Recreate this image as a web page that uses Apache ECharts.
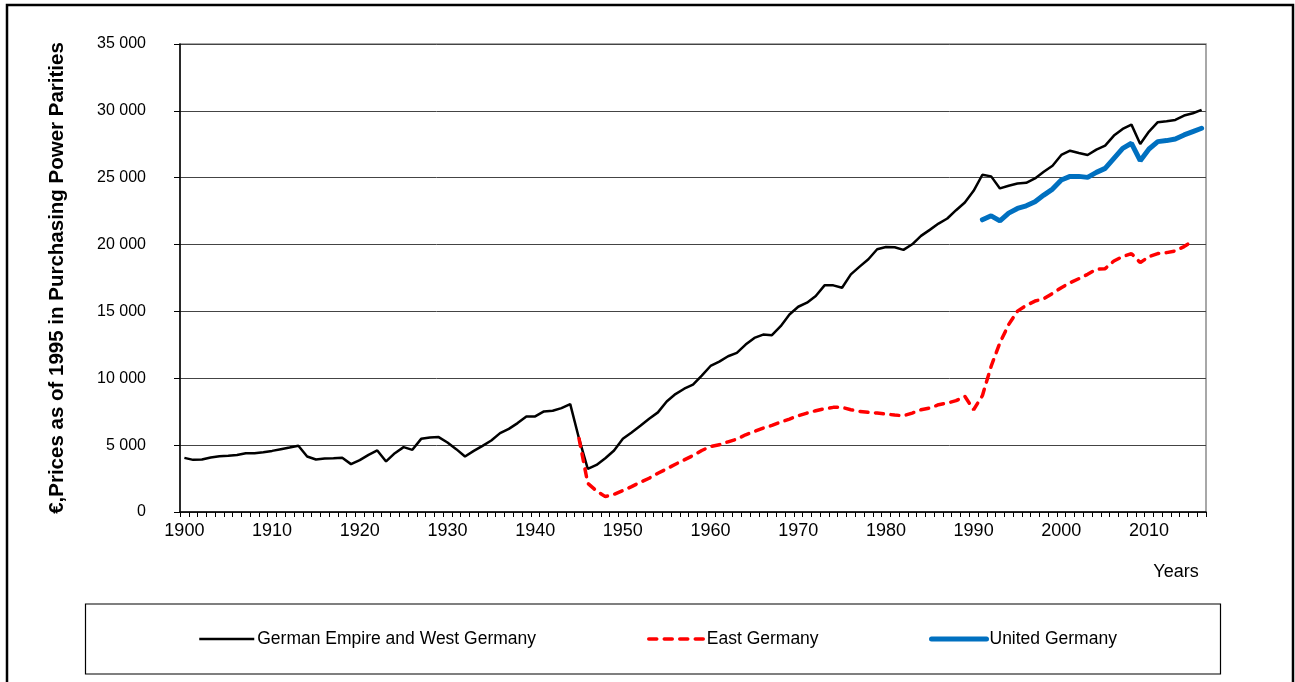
<!DOCTYPE html>
<html>
<head>
<meta charset="utf-8">
<title>GDP per capita Germany</title>
<script src="https://cdn.jsdelivr.net/npm/echarts@6/dist/echarts.min.js"></script>
<style>
    html, body {margin: 0; padding: 0; background: #fff;}
    #chart {width: 1295px; height: 682px;}
</style>
</head>
<body>
<div id="chart"></div>
<script>
//年份 1900-2016
var firstYear = 1900;
var lastYear = 2016;
var yTicks = [0, 5000, 10000, 15000, 20000, 25000, 30000, 35000];

//German Empire and West Germany, 1900-2016
var westValues = [
    4050, 3900, 3920, 4080, 4170, 4200, 4270, 4400, 4400, 4470,
    4570, 4700, 4820, 4950, 4150, 3930, 4000, 4020, 4050, 3580,
    3880, 4270, 4600, 3780, 4400, 4850, 4650, 5470, 5570, 5600,
    5200, 4700, 4150, 4570, 4950, 5350, 5900, 6220, 6650, 7150,
    7150, 7520, 7570, 7770, 8070, 5500, 3220, 3520, 4020, 4600,
    5470, 5950, 6450, 6970, 7450, 8270, 8820, 9220, 9520, 10200,
    10920, 11250, 11650, 11900, 12520, 13020, 13270, 13220, 13900, 14770,
    15350, 15650, 16150, 16950, 16950, 16770, 17770, 18350, 18900, 19650,
    19820, 19800, 19600, 20020, 20650, 21100, 21570, 21950, 22570, 23150,
    24020, 25220, 25100, 24200, 24400, 24570, 24620, 24950, 25450, 25900,
    26700, 27020, 26850, 26700, 27100, 27400, 28150, 28650, 28970, 27520,
    28450, 29150, 29220, 29320, 29650, 29820, 30070
];

//East Germany, 1945-2015
var eastStart = 1945;
var eastValues = [
    5500, 2150, 1575, 1150, 1325, 1600, 1900, 2225, 2525, 2900,
    3225, 3575, 3900, 4225, 4600, 4900, 5025, 5250, 5450, 5775,
    6025, 6275, 6475, 6725, 6950, 7200, 7400, 7575, 7725, 7825,
    7825, 7650, 7525, 7450, 7400, 7325, 7250, 7200, 7400, 7650,
    7775, 8025, 8150, 8325, 8650, 7650, 8700, 10900, 12650, 14025,
    15025, 15450, 15775, 15950, 16350, 16775, 17150, 17450, 17775, 18150,
    18200, 18775, 19100, 19325, 18650, 19100, 19325, 19400, 19525, 19850,
    20275
];

//United Germany, 1991-2016
var unitedStart = 1991;
var unitedValues = [
    21850, 22150, 21775, 22350, 22700, 22900, 23200, 23700, 24150, 24825,
    25100, 25100, 25025, 25400, 25700, 26450, 27200, 27575, 26275, 27150,
    27700, 27775, 27900, 28200, 28450, 28700
];

var years = [];
for (var y = firstYear; y <= lastYear; y++) {
    years.push(String(y));
}
//[年份, 数值]
var pairs = function (start, values) {
    var arr = [];
    for (var i = 0; i < values.length; i++) {
        arr.push([String(start + i), values[i]]);
    }
    return arr;
};
var fmt = function (v) {
    return String(v).replace(/\B(?=(\d{3})+(?!\d))/g, ' ');
};

var font = "'Liberation Sans', Arial, sans-serif";
var e = echarts.init(document.getElementById('chart'));
var option = {
    animation: false,
    backgroundColor: '#fff',
    textStyle: {fontFamily: font, color: '#000'},
    grid: {left: 180, right: 89, top: 44, bottom: 170, show: true, borderColor: '#8c8c8c', borderWidth: 1.5},
    xAxis: {
        type: 'category',
        data: years,
        boundaryGap: true,
        axisLine: {lineStyle: {color: '#000', width: 1.5}},
        axisTick: {show: true, interval: 0, length: 5, lineStyle: {color: '#000'}},
        axisLabel: {
            interval: function (i) { return i % 10 === 0; },
            fontSize: 18, color: '#000', margin: 10, fontFamily: font
        },
        splitLine: {show: false}
    },
    yAxis: {
        type: 'value',
        min: yTicks[0],
        max: yTicks[yTicks.length - 1],
        interval: yTicks[1] - yTicks[0],
        name: '€,Prices as of 1995 in Purchasing Power Parities',
        nameLocation: 'middle',
        nameGap: 112,
        nameRotate: 90,
        nameTextStyle: {fontSize: 20.5, fontWeight: 'bold', color: '#000', fontFamily: font},
        axisLine: {show: true, lineStyle: {color: '#000', width: 1.5}},
        axisTick: {show: true, length: 6, lineStyle: {color: '#000'}},
        axisLabel: {formatter: fmt, fontSize: 16, color: '#000', margin: 34, fontFamily: font},
        splitLine: {lineStyle: {color: '#444', width: 1}}
    },
    legend: [
        {data: ['German Empire and West Germany'], left: 198, top: 630},
        {data: ['East Germany'], left: 647, top: 630},
        {data: ['United Germany'], left: 929, top: 630}
    ].map(function (l) {
        l.padding = 0;
        l.itemWidth = 55;
        l.itemHeight = 14;
        l.itemGap = 0;
        l.itemStyle = {opacity: 0};
        l.lineStyle = {width: 'inherit'};
        l.textStyle = {fontSize: 17.5, color: '#000', fontFamily: font, padding: [0, 0, 0, -2]};
        return l;
    }),
    graphic: [
        {type: 'rect', shape: {x: 7, y: 5, width: 1286, height: 700}, style: {fill: 'none', stroke: '#000', lineWidth: 2.5}},
        {type: 'rect', shape: {x: 85.5, y: 604, width: 1135, height: 70}, style: {fill: 'none', stroke: '#000', lineWidth: 1.2}},
        {type: 'text', x: 1176, y: 572, style: {text: 'Years', font: '18px ' + font, fill: '#000', textAlign: 'center', textVerticalAlign: 'middle'}}
    ],
    series: [
        {
            name: 'German Empire and West Germany',
            type: 'line',
            data: pairs(firstYear, westValues),
            symbol: 'none',
            lineStyle: {color: '#000', width: 2.5},
            itemStyle: {color: '#000'},
            z: 3
        },
        {
            name: 'East Germany',
            type: 'line',
            data: pairs(eastStart, eastValues),
            symbol: 'none',
            lineStyle: {color: '#ff0000', width: 3.5, type: [8, 7.5], cap: 'round'},
            itemStyle: {color: '#ff0000'},
            z: 4
        },
        {
            name: 'United Germany',
            type: 'line',
            data: pairs(unitedStart, unitedValues),
            symbol: 'none',
            lineStyle: {color: '#0070c0', width: 5, cap: 'round'},
            itemStyle: {color: '#0070c0'},
            z: 5
        }
    ]
};
e.setOption(option);
</script>
</body>
</html>
